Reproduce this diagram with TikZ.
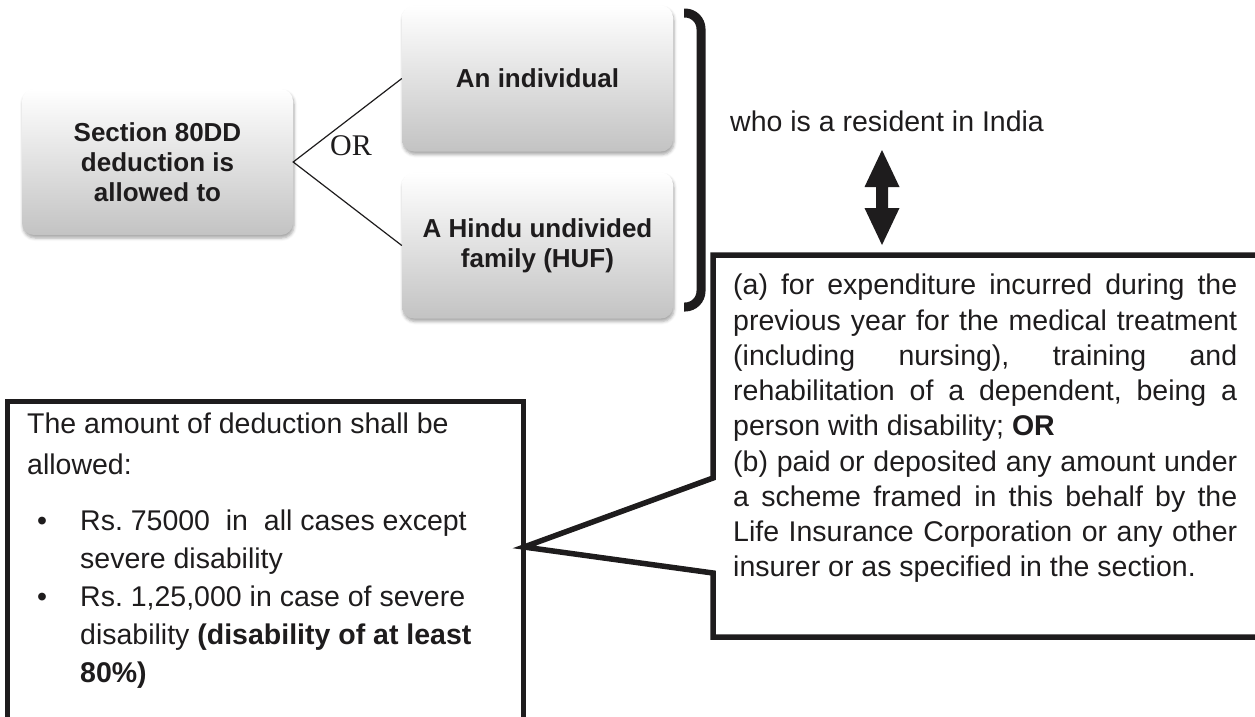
\documentclass[tikz,border=0pt]{standalone}
\usepackage{fontspec}
\setmainfont{Liberation Sans}
\newfontfamily\orfont{Liberation Serif}
\usetikzlibrary{shadows.blur}
\definecolor{ink}{RGB}{30,28,29}
\definecolor{boxbot}{RGB}{195,195,195}
\frenchspacing
\begin{document}
\begin{tikzpicture}[x=1pt,y=-1pt,
  graybox/.style={rounded corners=12pt, top color=white, bottom color=boxbot,
    minimum width=271pt, minimum height=146pt, align=center, text=ink, inner sep=0pt,
    font=\fontsize{26}{30}\selectfont\bfseries,
    blur shadow={shadow xshift=1pt, shadow yshift=-3pt, shadow blur radius=3pt, shadow opacity=35}},
  link/.style={draw=ink, line width=1.2pt},
  callout/.style={draw=ink, line width=5.5pt, line join=miter, miter limit=10},
  bodytext/.style={text=ink, inner sep=0pt, font=\fontsize{28.5}{35.25}\selectfont},
  linetext/.style={text=ink, inner sep=0pt, anchor=base west, font=\fontsize{28.5}{33}\selectfont}
]
\useasboundingbox (0,0) rectangle (1255,716);
\clip (0,0) rectangle (1255,716);

% gray boxes
\node[graybox] (sec) at (157.5,162) {Section 80DD\\deduction is\\allowed to};
\node[graybox] (ind) at (537.5,78.5) {An individual};
\node[graybox] (huf) at (537.5,245.5) {A Hindu undivided\\family (HUF)};

\draw[link] (ind.west) -- (sec.east) -- (huf.west);
\node[text=ink, inner sep=0pt, font=\orfont\fontsize{30}{32}\selectfont] (or) at (351,146) {OR};

% bracket
\draw[ink, line width=9pt, rounded corners=16pt] (684,13) -- (701,13) -- (701,307) -- (684,307);

\node[linetext] (who) at (730,131) {who is a resident in India};

% double arrow
\coordinate (arrtop) at (882,150);
\coordinate (arrbot) at (882,245);
\fill[ink] (arrtop) -- ++(17.5,37) -- ++(-11.5,0) -- ++(0,21) -- ++(11.5,0) -- (arrbot)
  -- ++(-17.5,-37) -- ++(11.5,0) -- ++(0,-21) -- ++(-11.5,0) -- cycle;

% left bottom box
\draw[draw=ink, line width=5pt] (7,401) rectangle (523,740);
\coordinate (apex) at (524,547);

% right callout box
\draw[callout] (713,478) -- (713,255) -- (1270,255) -- (1270,637) -- (713,637) -- (713,573) -- (apex) -- cycle;

\node[bodytext, anchor=north west, align=left] (cond) at (733,274) {%
\makebox[504pt][s]{(a) for expenditure incurred during the}\\
\makebox[504pt][s]{previous year for the medical treatment}\\
\makebox[504pt][s]{(including nursing), training and}\\
\makebox[504pt][s]{rehabilitation of a dependent, being a}\\
person with disability; \textbf{OR}\\
\makebox[504pt][s]{(b) paid or deposited any amount under}\\
\makebox[504pt][s]{a scheme framed in this behalf by the}\\
\makebox[504pt][s]{Life Insurance Corporation or any other}\\
insurer or as specified in the section.};

% left bottom text
\node[linetext] (t1) at (27,433) {The amount of deduction shall be};
\node[linetext] (t2) at (27,474) {allowed:};
\node[linetext] (b1) at (37,530) {•};
\node[linetext] (t3) at (80,530) {Rs. 75000\ \ in\ \ all cases except};
\node[linetext] (t4) at (80,568) {severe disability};
\node[linetext] (b2) at (37,606) {•};
\node[linetext] (t5) at (80,606) {Rs. 1,25,000 in case of severe};
\node[linetext] (t6) at (80,644) {disability \textbf{(disability of at least}};
\node[linetext] (t7) at (80,682) {\textbf{80\%)}};
\end{tikzpicture}
\end{document}
